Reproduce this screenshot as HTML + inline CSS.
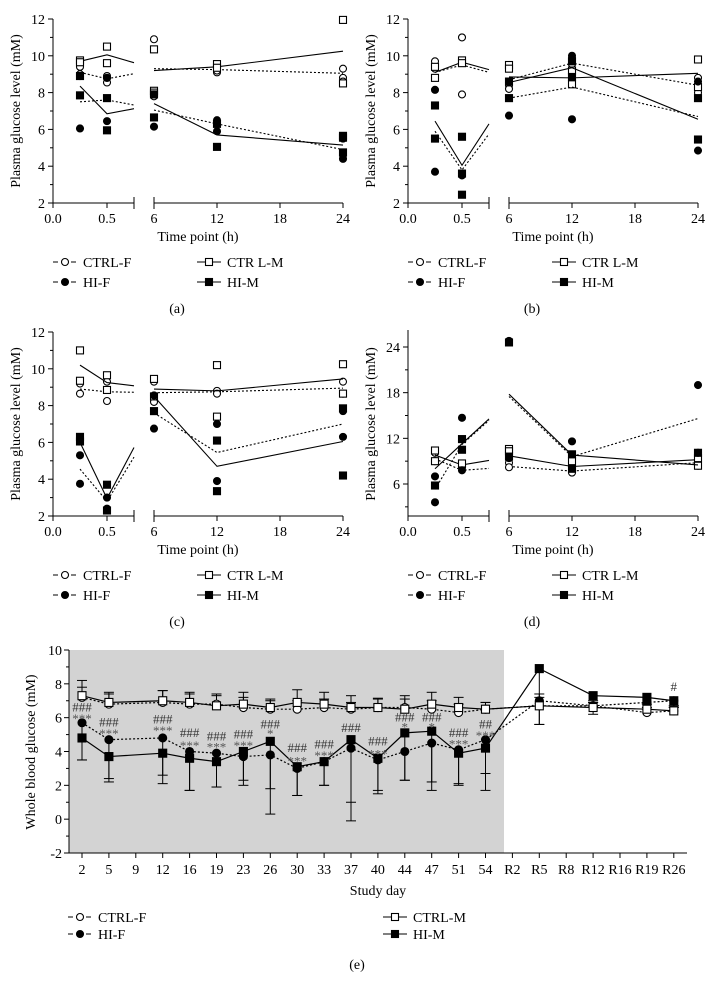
<!DOCTYPE html>
<html><head><meta charset="utf-8"><style>
html,body{margin:0;padding:0;background:#fff}
svg{display:block;font-family:"Liberation Serif",serif}
</style></head><body>
<svg id="fig" width="713" height="986" viewBox="0 0 713 986" xmlns="http://www.w3.org/2000/svg"></svg>
<script>
// ---------- Panel data (a)-(d): times 0.25, 0.5, 6, 12, 24 ----------
const times = [0.25, 0.5, 6, 12, 24];
const groups = ["CTRL-F", "CTRL-M", "HI-F", "HI-M"];
const a_ctrlF_pts = [[9.4,9.0],[8.9,8.55,8.8],[10.9,7.8],[9.1,9.2],[9.3,8.8,8.6]];
const a_ctrlM_pts = [[9.75,9.65],[10.5,9.6],[10.35,8.1,8.0],[9.55,9.35],[11.95,8.5]];
const a_hiF_pts = [[8.9,6.05],[8.8,6.45],[7.9,6.15],[6.5,6.4,5.9],[5.5,4.6,4.4]];
const a_hiM_pts = [[8.9,7.85],[7.7,5.95],[7.9,6.65],[6.3,5.05],[5.65,5.55,4.75]];
const a_ctrlF_mean = [9.1,8.75,9.3,9.25,9.05];
const a_ctrlM_mean = [9.7,10.05,9.2,9.4,10.25];
const a_hiF_mean = [7.5,7.6,7.05,6.3,4.9];
const a_hiM_mean = [8.35,6.85,7.4,5.7,5.15];

const b_ctrlF_pts = [[9.7,9.3],[11.0,7.9],[8.4,8.2],[9.55,9.8],[8.8,8.0,8.3]];
const b_ctrlM_pts = [[9.4,8.8],[9.75,9.6],[9.5,9.3],[8.45,9.2],[9.8,8.3]];
const b_hiF_pts = [[8.15,3.7],[3.5,3.6],[8.55,6.75],[10.0,9.85,6.55],[8.6,4.85]];
const b_hiM_pts = [[7.3,5.5],[5.6,2.45,3.6],[7.7,8.6],[8.85,9.7],[7.7,5.45]];
const b_ctrlF_mean = [9.1,9.5,8.7,9.6,8.4];
const b_ctrlM_mean = [9.1,9.65,8.85,8.8,9.05];
const b_hiF_mean = [5.9,3.8,7.7,8.3,6.7];
const b_hiM_mean = [6.45,4.05,8.55,9.35,6.55];

const c_ctrlF_pts = [[9.2,8.65],[9.3,8.25],[9.3,8.2],[8.8,8.65],[9.3,8.65]];
const c_ctrlM_pts = [[11.0,9.35],[9.65,8.85],[9.45,8.5],[10.2,7.4],[10.25,8.65]];
const c_hiF_pts = [[5.3,3.75],[3.0,2.4],[8.55,6.75],[7.0,3.9],[7.7,6.3]];
const c_hiM_pts = [[6.3,6.05],[3.7,2.3],[7.7],[6.1,3.35],[7.85,4.2]];
const c_ctrlF_mean = [8.9,8.75,8.7,8.75,8.95];
const c_ctrlM_mean = [10.2,9.25,8.9,8.8,9.45];
const c_hiF_mean = [4.55,2.8,7.6,5.45,7.0];
const c_hiM_mean = [6.0,2.95,8.5,4.7,6.05];

const d_ctrlF_pts = [[10.1,9.0],[8.2],[8.8,8.2],[7.5],[10.0,8.4]];
const d_ctrlM_pts = [[10.4,9.0],[8.7],[10.6,10.3],[9.0],[9.4,8.4]];
const d_hiF_pts = [[7.0,3.6],[14.7,7.8],[24.8,9.4],[11.6],[19.0,10.1]];
const d_hiM_pts = [[5.8],[11.9,10.5],[24.6,9.6],[9.9,8.0],[10.1]];
const d_ctrlF_mean = [9.3,7.8,8.3,7.7,8.8];
const d_ctrlM_mean = [9.8,8.5,9.7,8.3,9.2];
const d_hiF_mean = [5.3,11.2,17.5,9.6,14.6];
const d_hiM_mean = [8.0,11.3,17.8,9.8,8.5];

const yTicksTop = [2,4,6,8,10,12];
const yTicksD = [6,12,18,24];
const xTicks1 = [0.0,0.5];
const xTicks2 = [6,12,18,24];

// ---------- Panel (e) data ----------
const days = ["2","5","9","12","16","19","23","26","30","33","37","40","44","47","51","54","R2","R5","R8","R12","R16","R19","R26"];
const e_ctrlF = [7.2,6.8,null,6.9,6.8,6.8,6.6,6.5,6.5,6.6,6.5,6.6,6.6,6.5,6.3,6.5,null,6.7,null,6.7,null,6.3,6.4];
const e_ctrlM = [7.3,6.9,null,7.0,6.9,6.7,6.8,6.6,6.9,6.8,6.6,6.6,6.5,6.8,6.6,6.5,null,6.7,null,6.6,null,6.5,6.4];
const e_hiF = [5.7,4.7,null,4.8,4.0,3.9,3.7,3.8,3.0,3.4,4.2,3.5,4.0,4.5,4.1,4.7,null,7.0,null,6.7,null,6.9,7.0];
const e_hiM = [4.8,3.7,null,3.9,3.6,3.4,4.0,4.6,3.1,3.4,4.7,3.6,5.1,5.2,3.9,4.2,null,8.9,null,7.3,null,7.2,7.0];
const e_ctrlM_sd = [0.9,0.6,null,0.6,0.6,0.7,0.7,0.5,0.75,0.7,0.7,0.55,0.8,0.7,0.6,0.4,null,0.7,null,0.3,null,0.3,0.2];
const e_ctrlF_sd = [0.6,0.6,null,0.7,0.6,0.5,0.6,0.5,0.5,0.5,0.4,0.5,0.5,0.5,0.5,0.4,null,0.5,null,0.3,null,0.3,0.2];
const e_hiF_sd = [2.2,2.3,null,2.2,2.3,2.0,1.4,2.0,1.6,1.4,3.2,2.0,1.7,2.8,2.0,2.0,null,1.4,null,0.5,null,0.4,0.3];
const e_hiM_sd = [1.3,1.5,null,1.8,1.9,1.5,2.0,4.3,1.7,1.4,4.8,1.9,2.8,3.0,1.9,2.5,null,3.3,null,0.4,null,0.4,0.3];
const annTop = ["###","###",null,"###","###","###","###","###","###","###","###","###","###","###","###","##",null,null,null,null,null,null,"#"];
const annBot = ["***","***",null,"***","***","***","***","*","***","***",null,"***","*","*","***","***",null,null,null,null,null,null,null];
const annTopY = [6.6,5.7,null,5.9,5.1,4.9,5.0,5.6,4.2,4.4,5.4,4.6,6.0,6.0,5.1,5.6,null,null,null,null,null,null,7.8];
const annBotY = [6.1,5.2,null,5.4,4.5,4.4,4.5,5.2,3.6,3.9,null,4.0,5.6,5.6,4.6,5.1,null,null,null,null,null,null,null];
const eYTicks = [-2,0,2,4,6,8,10];

const NS = "http://www.w3.org/2000/svg";
const svg = document.getElementById("fig");
function el(tag, attrs, parent, text){
  const e = document.createElementNS(NS, tag);
  for (const k in attrs) e.setAttribute(k, attrs[k]);
  if (text !== undefined) e.textContent = text;
  (parent || svg).appendChild(e);
  return e;
}
function marker(g, type, x, y, s){
  s = s || 7;
  let m;
  if (type === "CTRL-F" || type === "HI-F") {
    m = el("circle", {cx:x, cy:y, r:s/2, fill: type==="HI-F"?"#000":"#fff", stroke:"#000", "stroke-width":1.1}, g);
  } else {
    m = el("rect", {x:x-s/2, y:y-s/2, width:s, height:s, fill: type==="HI-M"?"#000":"#fff", stroke:"#000", "stroke-width":1.1}, g);
  }
  return m;
}
const dashOf = {"CTRL-F":"2,2","HI-F":"2,2","CTRL-M":"","HI-M":""};

function drawPanel(ox, oy, isD, data, label){
  const g = el("g", {}, svg);
  
  
  const yBot = oy + 203, yTop = oy + 19;
  const Y = v => isD ? (oy + 171 - (v - 6) * (137/18)) : (yBot - (v - 2) * (yBot - yTop) / 10);
  const X = t => t < 1 ? ox + 53 + t * 108 : ox + 154 + (t - 6) * (189/18);
  const axisTop = isD ? oy + 17 : yTop;
  el("line", {x1:ox+53, y1:axisTop, x2:ox+53, y2:yBot, stroke:"#000", "stroke-width":1}, g);
  const yt = isD ? yTicksD : yTicksTop;
  yt.forEach(v => {
    el("line", {x1:ox+48, y1:Y(v), x2:ox+53, y2:Y(v), stroke:"#000"}, g);
    const t = el("text", {x:ox+45, y:Y(v)+5, "font-size":14, "text-anchor":"end"}, g, String(v));
    
    
  });
  if (isD) { [3,9,15,21].forEach(v => el("line", {x1:ox+50, y1:Y(v), x2:ox+53, y2:Y(v), stroke:"#000"}, g)); }
  else { [3,5,7,9,11].forEach(v => el("line", {x1:ox+50, y1:Y(v), x2:ox+53, y2:Y(v), stroke:"#000"}, g)); }
  const yl = el("text", {x:0, y:0, "font-size":14, "text-anchor":"middle", transform:`translate(${ox+20},${oy+111}) rotate(-90)`}, g, "Plasma glucose level (mM)");
  
  
  el("line", {x1:ox+53, y1:yBot, x2:ox+134, y2:yBot, stroke:"#000"}, g);
  el("line", {x1:ox+134, y1:yBot-6, x2:ox+134, y2:yBot+6, stroke:"#000"}, g);
  el("line", {x1:ox+154, y1:yBot, x2:ox+343, y2:yBot, stroke:"#000"}, g);
  el("line", {x1:ox+154, y1:yBot-6, x2:ox+154, y2:yBot+6, stroke:"#000"}, g);
  xTicks1.forEach(v => {
    el("line", {x1:X(v), y1:yBot, x2:X(v), y2:yBot+5, stroke:"#000"}, g);
    const t = el("text", {x:X(v), y:yBot+20, "font-size":14, "text-anchor":"middle"}, g, v.toFixed(1));
    
    
  });
  xTicks2.forEach(v => {
    el("line", {x1:X(v), y1:yBot, x2:X(v), y2:yBot+5, stroke:"#000"}, g);
    const t = el("text", {x:X(v), y:yBot+20, "font-size":14, "text-anchor":"middle"}, g, String(v));
    
    
  });
  const xl = el("text", {x:ox+198, y:oy+241, "font-size":14, "text-anchor":"middle"}, g, "Time point (h)");
  
  
  groups.forEach((grp, gi) => {
    const pts = data.pts[gi], mean = data.mean[gi];
    const sg = el("g", {}, g);
    
    
    const endV = mean[1] + (mean[2] - mean[1]) * 0.5;
    const p1 = `${X(times[0])},${Y(mean[0])} ${X(times[1])},${Y(mean[1])} ${X(0.75)},${Y(endV)}`;
    const p2 = [2,3,4].map(i => `${X(times[i])},${Y(mean[i])}`).join(" ");
    const ln1 = el("polyline", {points:p1, fill:"none", stroke:"#000", "stroke-width":1.1, "stroke-dasharray":dashOf[grp]}, sg);
    
    
    const ln2 = el("polyline", {points:p2, fill:"none", stroke:"#000", "stroke-width":1.1, "stroke-dasharray":dashOf[grp]}, sg);
    
    
    pts.forEach((arr, ti) => arr.forEach(v => {
      const m = marker(sg, grp, X(times[ti]), Y(v), 7);
      
      
    }));
  });
  const lgd = el("g", {}, g);
  
  
  const lrows = [[ox+53, oy+262, "CTRL-F", "CTRL-F"], [ox+197, oy+262, "CTRL-M", "CTR L-M"], [ox+53, oy+282, "HI-F", "HI-F"], [ox+197, oy+282, "HI-M", "HI-M"]];
  lrows.forEach(r => {
    const it = el("g", {}, lgd);
    
    
    el("line", {x1:r[0], y1:r[1], x2:r[0]+24, y2:r[1], stroke:"#000", "stroke-width":1.1, "stroke-dasharray": r[2].endsWith("F") ? "5,4" : ""}, it);
    marker(it, r[2], r[0]+12, r[1], 7);
    el("text", {x:r[0]+30, y:r[1]+5, "font-size":14}, it, r[3]);
  });
  const pl = el("text", {x:ox+177, y:oy+313, "font-size":14, "text-anchor":"middle"}, g, "(" + label + ")");
  
  
}

drawPanel(0, 0, false, {pts:[a_ctrlF_pts,a_ctrlM_pts,a_hiF_pts,a_hiM_pts], mean:[a_ctrlF_mean,a_ctrlM_mean,a_hiF_mean,a_hiM_mean]}, "a");
drawPanel(355, 0, false, {pts:[b_ctrlF_pts,b_ctrlM_pts,b_hiF_pts,b_hiM_pts], mean:[b_ctrlF_mean,b_ctrlM_mean,b_hiF_mean,b_hiM_mean]}, "b");
drawPanel(0, 313, false, {pts:[c_ctrlF_pts,c_ctrlM_pts,c_hiF_pts,c_hiM_pts], mean:[c_ctrlF_mean,c_ctrlM_mean,c_hiF_mean,c_hiM_mean]}, "c");
drawPanel(355, 313, true, {pts:[d_ctrlF_pts,d_ctrlM_pts,d_hiF_pts,d_hiM_pts], mean:[d_ctrlF_mean,d_ctrlM_mean,d_hiF_mean,d_hiM_mean]}, "d");

// ---------- Panel (e) ----------
(function(){
  const g = el("g", {}, svg);
  
  
  const x0 = 69, xEnd = 687, yTop = 650, yBot = 853;
  const Y = v => yBot - (v + 2) * (yBot - yTop) / 12;
  const X = i => 82 + i * 26.9;
  const bg = el("rect", {x:x0, y:yTop, width:504 - x0, height:yBot - yTop, fill:"#d3d3d3"}, g);
  
  
  el("line", {x1:x0, y1:yTop, x2:x0, y2:yBot, stroke:"#000"}, g);
  el("line", {x1:x0, y1:yBot, x2:xEnd, y2:yBot, stroke:"#000"}, g);
  eYTicks.forEach(v => {
    el("line", {x1:x0-5, y1:Y(v), x2:x0, y2:Y(v), stroke:"#000"}, g);
    const t = el("text", {x:x0-7, y:Y(v)+5, "font-size":14, "text-anchor":"end"}, g, String(v));
    
    
  });
  [-1,1,3,5,7,9].forEach(v => el("line", {x1:x0-3, y1:Y(v), x2:x0, y2:Y(v), stroke:"#000"}, g));
  days.forEach((d, i) => {
    el("line", {x1:X(i), y1:yBot, x2:X(i), y2:yBot+5, stroke:"#000"}, g);
    const t = el("text", {x:X(i), y:yBot+21, "font-size":14, "text-anchor":"middle"}, g, d);
    
    
  });
  const xl = el("text", {x:378, y:895, "font-size":14, "text-anchor":"middle"}, g, "Study day");
  
  
  const yl = el("text", {x:0, y:0, "font-size":14, "text-anchor":"middle", transform:"translate(35,752) rotate(-90)"}, g, "Whole blood glucose (mM)");
  
  

  // [name, means, sd, direction] : CTRL bars drawn upward, HI bars drawn downward
  const series = [["CTRL-F", e_ctrlF, e_ctrlF_sd, 1], ["CTRL-M", e_ctrlM, e_ctrlM_sd, 1], ["HI-F", e_hiF, e_hiF_sd, -1], ["HI-M", e_hiM, e_hiM_sd, -1]];
  series.forEach(s => {
    const eg = el("g", {}, g);
    
    
    s[1].forEach((v, i) => {
      if (v === null) return;
      const end = v + s[3] * s[2][i];
      el("line", {x1:X(i), y1:Y(v), x2:X(i), y2:Y(end), stroke:"#000", "stroke-width":1}, eg);
      el("line", {x1:X(i)-5, y1:Y(end), x2:X(i)+5, y2:Y(end), stroke:"#000", "stroke-width":1}, eg);
    });
  });
  [series[0], series[2], series[1], series[3]].forEach(s => {
    const sg = el("g", {}, g);
    
    
    const pts = [];
    s[1].forEach((v, i) => { if (v !== null) pts.push(`${X(i)},${Y(v)}`); });
    const ln = el("polyline", {points:pts.join(" "), fill:"none", stroke:"#000", "stroke-width":1.2, "stroke-dasharray":dashOf[s[0]]}, sg);
    
    
    s[1].forEach((v, i) => {
      if (v === null) return;
      const m = marker(sg, s[0], X(i), Y(v), 8);
      
      
    });
  });
  days.forEach((d, i) => {
    if (annTop[i]) {
      const t = el("text", {x:X(i), y:Y(annTopY[i])+4, "font-size":13, "text-anchor":"middle", fill:"#333"}, g, annTop[i]);
      
      
    }
    if (annBot[i]) {
      const t = el("text", {x:X(i), y:Y(annBotY[i])+7, "font-size":13, "text-anchor":"middle", fill:"#555"}, g, annBot[i]);
      
      
    }
  });
  const lgd = el("g", {}, g);
  
  
  const lrows = [[68, 917, "CTRL-F"], [383, 917, "CTRL-M"], [68, 934, "HI-F"], [383, 934, "HI-M"]];
  lrows.forEach(r => {
    const it = el("g", {}, lgd);
    
    
    el("line", {x1:r[0], y1:r[1], x2:r[0]+24, y2:r[1], stroke:"#000", "stroke-width":1.1, "stroke-dasharray": r[2].endsWith("F") ? "5,4" : ""}, it);
    marker(it, r[2], r[0]+12, r[1], 7);
    el("text", {x:r[0]+30, y:r[1]+5, "font-size":14}, it, r[2]);
  });
  const pl = el("text", {x:357, y:969, "font-size":14, "text-anchor":"middle"}, g, "(e)");
  
  
})();
</script>
</body></html>
